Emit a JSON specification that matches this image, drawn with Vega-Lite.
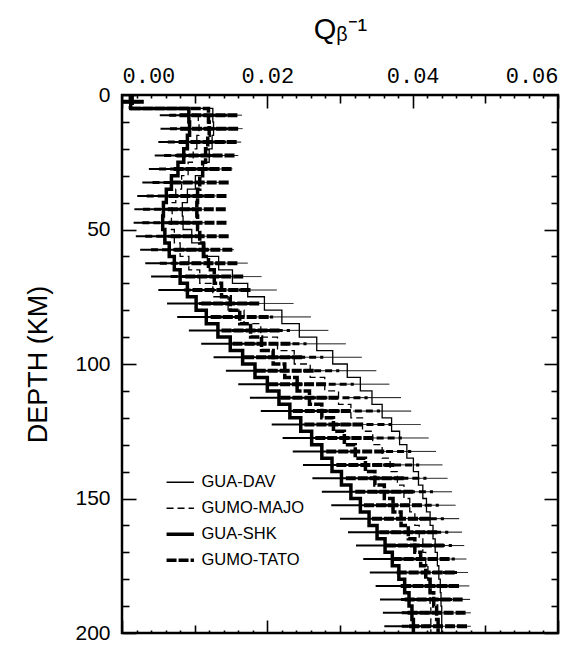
{
"$schema":"https://vega.github.io/schema/vega-lite/v6.json",
"width":436,"height":538,
"autosize":{"type":"none"},
"padding":{"left":122,"top":95,"right":30,"bottom":12},
"background":"white",
"config":{"view":{"stroke":"black","strokeWidth":2.5},"font":"Liberation Sans",
 "axis":{"grid":false,"domain":false,"tickColor":"black","labelColor":"black","titleColor":"black","tickWidth":1.6,"labelOverlap":false,"labelBound":false,"titleFontWeight":"normal"}},
"datasets":{"p":[
{"s":"GUA-DAV","top":0,"mid":2.5,"q":0.0012,"lo":0,"hi":0.0028},
{"s":"GUA-DAV","top":5,"mid":7.5,"q":0.0125,"lo":0.0085,"hi":0.0165},
{"s":"GUA-DAV","top":10,"mid":12.5,"q":0.0126,"lo":0.0086,"hi":0.0166},
{"s":"GUA-DAV","top":15,"mid":17.5,"q":0.0124,"lo":0.0084,"hi":0.0164},
{"s":"GUA-DAV","top":20,"mid":22.5,"q":0.012,"lo":0.008,"hi":0.016},
{"s":"GUA-DAV","top":25,"mid":27.5,"q":0.0112,"lo":0.0072,"hi":0.0152},
{"s":"GUA-DAV","top":30,"mid":32.5,"q":0.0101,"lo":0.0061,"hi":0.0141},
{"s":"GUA-DAV","top":35,"mid":37.5,"q":0.009,"lo":0.005,"hi":0.013},
{"s":"GUA-DAV","top":40,"mid":42.5,"q":0.0083,"lo":0.0043,"hi":0.0123},
{"s":"GUA-DAV","top":45,"mid":47.5,"q":0.0084,"lo":0.0044,"hi":0.0124},
{"s":"GUA-DAV","top":50,"mid":52.5,"q":0.0096,"lo":0.0056,"hi":0.0136},
{"s":"GUA-DAV","top":55,"mid":57.5,"q":0.0114,"lo":0.0074,"hi":0.0154},
{"s":"GUA-DAV","top":60,"mid":62.5,"q":0.0133,"lo":0.0093,"hi":0.0173},
{"s":"GUA-DAV","top":65,"mid":67.5,"q":0.0152,"lo":0.0112,"hi":0.0192},
{"s":"GUA-DAV","top":70,"mid":72.5,"q":0.0173,"lo":0.0133,"hi":0.0213},
{"s":"GUA-DAV","top":75,"mid":77.5,"q":0.0196,"lo":0.0156,"hi":0.0236},
{"s":"GUA-DAV","top":80,"mid":82.5,"q":0.022,"lo":0.018,"hi":0.026},
{"s":"GUA-DAV","top":85,"mid":87.5,"q":0.0244,"lo":0.0204,"hi":0.0284},
{"s":"GUA-DAV","top":90,"mid":92.5,"q":0.0268,"lo":0.0228,"hi":0.0308},
{"s":"GUA-DAV","top":95,"mid":97.5,"q":0.029,"lo":0.025,"hi":0.033},
{"s":"GUA-DAV","top":100,"mid":102.5,"q":0.031,"lo":0.027,"hi":0.035},
{"s":"GUA-DAV","top":105,"mid":107.5,"q":0.0328,"lo":0.0288,"hi":0.0368},
{"s":"GUA-DAV","top":110,"mid":112.5,"q":0.0344,"lo":0.0304,"hi":0.0384},
{"s":"GUA-DAV","top":115,"mid":117.5,"q":0.0358,"lo":0.0318,"hi":0.0398},
{"s":"GUA-DAV","top":120,"mid":122.5,"q":0.0371,"lo":0.0331,"hi":0.0411},
{"s":"GUA-DAV","top":125,"mid":127.5,"q":0.0382,"lo":0.0342,"hi":0.0422},
{"s":"GUA-DAV","top":130,"mid":132.5,"q":0.0392,"lo":0.0352,"hi":0.0432},
{"s":"GUA-DAV","top":135,"mid":137.5,"q":0.0401,"lo":0.0361,"hi":0.0441},
{"s":"GUA-DAV","top":140,"mid":142.5,"q":0.0408,"lo":0.0368,"hi":0.0448},
{"s":"GUA-DAV","top":145,"mid":147.5,"q":0.0414,"lo":0.0374,"hi":0.0454},
{"s":"GUA-DAV","top":150,"mid":152.5,"q":0.0419,"lo":0.0379,"hi":0.0459},
{"s":"GUA-DAV","top":155,"mid":157.5,"q":0.0424,"lo":0.0384,"hi":0.0464},
{"s":"GUA-DAV","top":160,"mid":162.5,"q":0.0428,"lo":0.0388,"hi":0.0468},
{"s":"GUA-DAV","top":165,"mid":167.5,"q":0.0431,"lo":0.0391,"hi":0.0471},
{"s":"GUA-DAV","top":170,"mid":172.5,"q":0.0434,"lo":0.0394,"hi":0.0474},
{"s":"GUA-DAV","top":175,"mid":177.5,"q":0.0436,"lo":0.0396,"hi":0.0476},
{"s":"GUA-DAV","top":180,"mid":182.5,"q":0.0438,"lo":0.0398,"hi":0.0478},
{"s":"GUA-DAV","top":185,"mid":187.5,"q":0.0439,"lo":0.0399,"hi":0.0479},
{"s":"GUA-DAV","top":190,"mid":192.5,"q":0.044,"lo":0.04,"hi":0.048},
{"s":"GUA-DAV","top":195,"mid":197.5,"q":0.044,"lo":0.04,"hi":0.048},
{"s":"GUA-DAV","top":200,"q":0.044},
{"s":"GUMO-MAJO","top":0,"mid":2.5,"q":0.001,"lo":0,"hi":0.0025},
{"s":"GUMO-MAJO","top":5,"mid":7.5,"q":0.0105,"lo":0.0065,"hi":0.0145},
{"s":"GUMO-MAJO","top":10,"mid":12.5,"q":0.0106,"lo":0.0066,"hi":0.0146},
{"s":"GUMO-MAJO","top":15,"mid":17.5,"q":0.0103,"lo":0.0063,"hi":0.0143},
{"s":"GUMO-MAJO","top":20,"mid":22.5,"q":0.0098,"lo":0.0058,"hi":0.0138},
{"s":"GUMO-MAJO","top":25,"mid":27.5,"q":0.0091,"lo":0.0051,"hi":0.0131},
{"s":"GUMO-MAJO","top":30,"mid":32.5,"q":0.0082,"lo":0.0042,"hi":0.0122},
{"s":"GUMO-MAJO","top":35,"mid":37.5,"q":0.0074,"lo":0.0034,"hi":0.0114},
{"s":"GUMO-MAJO","top":40,"mid":42.5,"q":0.0069,"lo":0.0029,"hi":0.0109},
{"s":"GUMO-MAJO","top":45,"mid":47.5,"q":0.0068,"lo":0.0028,"hi":0.0108},
{"s":"GUMO-MAJO","top":50,"mid":52.5,"q":0.0072,"lo":0.0032,"hi":0.0112},
{"s":"GUMO-MAJO","top":55,"mid":57.5,"q":0.008,"lo":0.004,"hi":0.012},
{"s":"GUMO-MAJO","top":60,"mid":62.5,"q":0.0092,"lo":0.0052,"hi":0.0132},
{"s":"GUMO-MAJO","top":65,"mid":67.5,"q":0.0107,"lo":0.0067,"hi":0.0147},
{"s":"GUMO-MAJO","top":70,"mid":72.5,"q":0.0125,"lo":0.0085,"hi":0.0165},
{"s":"GUMO-MAJO","top":75,"mid":77.5,"q":0.0146,"lo":0.0106,"hi":0.0186},
{"s":"GUMO-MAJO","top":80,"mid":82.5,"q":0.0168,"lo":0.0128,"hi":0.0208},
{"s":"GUMO-MAJO","top":85,"mid":87.5,"q":0.0191,"lo":0.0151,"hi":0.0231},
{"s":"GUMO-MAJO","top":90,"mid":92.5,"q":0.0214,"lo":0.0174,"hi":0.0254},
{"s":"GUMO-MAJO","top":95,"mid":97.5,"q":0.0237,"lo":0.0197,"hi":0.0277},
{"s":"GUMO-MAJO","top":100,"mid":102.5,"q":0.0259,"lo":0.0219,"hi":0.0299},
{"s":"GUMO-MAJO","top":105,"mid":107.5,"q":0.0279,"lo":0.0239,"hi":0.0319},
{"s":"GUMO-MAJO","top":110,"mid":112.5,"q":0.0298,"lo":0.0258,"hi":0.0338},
{"s":"GUMO-MAJO","top":115,"mid":117.5,"q":0.0315,"lo":0.0275,"hi":0.0355},
{"s":"GUMO-MAJO","top":120,"mid":122.5,"q":0.0331,"lo":0.0291,"hi":0.0371},
{"s":"GUMO-MAJO","top":125,"mid":127.5,"q":0.0345,"lo":0.0305,"hi":0.0385},
{"s":"GUMO-MAJO","top":130,"mid":132.5,"q":0.0358,"lo":0.0318,"hi":0.0398},
{"s":"GUMO-MAJO","top":135,"mid":137.5,"q":0.0369,"lo":0.0329,"hi":0.0409},
{"s":"GUMO-MAJO","top":140,"mid":142.5,"q":0.0379,"lo":0.0339,"hi":0.0419},
{"s":"GUMO-MAJO","top":145,"mid":147.5,"q":0.0388,"lo":0.0348,"hi":0.0428},
{"s":"GUMO-MAJO","top":150,"mid":152.5,"q":0.0396,"lo":0.0356,"hi":0.0436},
{"s":"GUMO-MAJO","top":155,"mid":157.5,"q":0.0403,"lo":0.0363,"hi":0.0443},
{"s":"GUMO-MAJO","top":160,"mid":162.5,"q":0.0409,"lo":0.0369,"hi":0.0449},
{"s":"GUMO-MAJO","top":165,"mid":167.5,"q":0.0414,"lo":0.0374,"hi":0.0454},
{"s":"GUMO-MAJO","top":170,"mid":172.5,"q":0.0418,"lo":0.0378,"hi":0.0458},
{"s":"GUMO-MAJO","top":175,"mid":177.5,"q":0.0421,"lo":0.0381,"hi":0.0461},
{"s":"GUMO-MAJO","top":180,"mid":182.5,"q":0.0423,"lo":0.0383,"hi":0.0463},
{"s":"GUMO-MAJO","top":185,"mid":187.5,"q":0.0424,"lo":0.0384,"hi":0.0464},
{"s":"GUMO-MAJO","top":190,"mid":192.5,"q":0.0425,"lo":0.0385,"hi":0.0465},
{"s":"GUMO-MAJO","top":195,"mid":197.5,"q":0.0425,"lo":0.0385,"hi":0.0465},
{"s":"GUMO-MAJO","top":200,"q":0.0425},
{"s":"GUA-SHK","top":0,"mid":2.5,"q":0.0012,"lo":0,"hi":0.0028},
{"s":"GUA-SHK","top":5,"mid":7.5,"q":0.0092,"lo":0.0052,"hi":0.0132},
{"s":"GUA-SHK","top":10,"mid":12.5,"q":0.0093,"lo":0.0053,"hi":0.0133},
{"s":"GUA-SHK","top":15,"mid":17.5,"q":0.009,"lo":0.005,"hi":0.013},
{"s":"GUA-SHK","top":20,"mid":22.5,"q":0.0085,"lo":0.0045,"hi":0.0125},
{"s":"GUA-SHK","top":25,"mid":27.5,"q":0.0077,"lo":0.0037,"hi":0.0117},
{"s":"GUA-SHK","top":30,"mid":32.5,"q":0.0068,"lo":0.0028,"hi":0.0108},
{"s":"GUA-SHK","top":35,"mid":37.5,"q":0.0061,"lo":0.0021,"hi":0.0101},
{"s":"GUA-SHK","top":40,"mid":42.5,"q":0.0057,"lo":0.0017,"hi":0.0097},
{"s":"GUA-SHK","top":45,"mid":47.5,"q":0.0056,"lo":0.0016,"hi":0.0096},
{"s":"GUA-SHK","top":50,"mid":52.5,"q":0.0059,"lo":0.0019,"hi":0.0099},
{"s":"GUA-SHK","top":55,"mid":57.5,"q":0.0065,"lo":0.0025,"hi":0.0105},
{"s":"GUA-SHK","top":60,"mid":62.5,"q":0.0072,"lo":0.0032,"hi":0.0112},
{"s":"GUA-SHK","top":65,"mid":67.5,"q":0.008,"lo":0.004,"hi":0.012},
{"s":"GUA-SHK","top":70,"mid":72.5,"q":0.009,"lo":0.005,"hi":0.013},
{"s":"GUA-SHK","top":75,"mid":77.5,"q":0.0102,"lo":0.0062,"hi":0.0142},
{"s":"GUA-SHK","top":80,"mid":82.5,"q":0.0116,"lo":0.0076,"hi":0.0156},
{"s":"GUA-SHK","top":85,"mid":87.5,"q":0.0132,"lo":0.0092,"hi":0.0172},
{"s":"GUA-SHK","top":90,"mid":92.5,"q":0.0149,"lo":0.0109,"hi":0.0189},
{"s":"GUA-SHK","top":95,"mid":97.5,"q":0.0166,"lo":0.0126,"hi":0.0206},
{"s":"GUA-SHK","top":100,"mid":102.5,"q":0.0183,"lo":0.0143,"hi":0.0223},
{"s":"GUA-SHK","top":105,"mid":107.5,"q":0.02,"lo":0.016,"hi":0.024},
{"s":"GUA-SHK","top":110,"mid":112.5,"q":0.0216,"lo":0.0176,"hi":0.0256},
{"s":"GUA-SHK","top":115,"mid":117.5,"q":0.0231,"lo":0.0191,"hi":0.0271},
{"s":"GUA-SHK","top":120,"mid":122.5,"q":0.0246,"lo":0.0206,"hi":0.0286},
{"s":"GUA-SHK","top":125,"mid":127.5,"q":0.0261,"lo":0.0221,"hi":0.0301},
{"s":"GUA-SHK","top":130,"mid":132.5,"q":0.0275,"lo":0.0235,"hi":0.0315},
{"s":"GUA-SHK","top":135,"mid":137.5,"q":0.0289,"lo":0.0249,"hi":0.0329},
{"s":"GUA-SHK","top":140,"mid":142.5,"q":0.0302,"lo":0.0262,"hi":0.0342},
{"s":"GUA-SHK","top":145,"mid":147.5,"q":0.0315,"lo":0.0275,"hi":0.0355},
{"s":"GUA-SHK","top":150,"mid":152.5,"q":0.0328,"lo":0.0288,"hi":0.0368},
{"s":"GUA-SHK","top":155,"mid":157.5,"q":0.034,"lo":0.03,"hi":0.038},
{"s":"GUA-SHK","top":160,"mid":162.5,"q":0.0351,"lo":0.0311,"hi":0.0391},
{"s":"GUA-SHK","top":165,"mid":167.5,"q":0.0362,"lo":0.0322,"hi":0.0402},
{"s":"GUA-SHK","top":170,"mid":172.5,"q":0.0372,"lo":0.0332,"hi":0.0412},
{"s":"GUA-SHK","top":175,"mid":177.5,"q":0.0381,"lo":0.0341,"hi":0.0421},
{"s":"GUA-SHK","top":180,"mid":182.5,"q":0.0389,"lo":0.0349,"hi":0.0429},
{"s":"GUA-SHK","top":185,"mid":187.5,"q":0.0395,"lo":0.0355,"hi":0.0435},
{"s":"GUA-SHK","top":190,"mid":192.5,"q":0.0399,"lo":0.0359,"hi":0.0439},
{"s":"GUA-SHK","top":195,"mid":197.5,"q":0.0401,"lo":0.0361,"hi":0.0441},
{"s":"GUA-SHK","top":200,"q":0.0401},
{"s":"GUMO-TATO","top":0,"mid":2.5,"q":0.0014,"lo":0,"hi":0.003},
{"s":"GUMO-TATO","top":5,"mid":7.5,"q":0.0119,"lo":0.0079,"hi":0.0159},
{"s":"GUMO-TATO","top":10,"mid":12.5,"q":0.012,"lo":0.008,"hi":0.016},
{"s":"GUMO-TATO","top":15,"mid":17.5,"q":0.0118,"lo":0.0078,"hi":0.0158},
{"s":"GUMO-TATO","top":20,"mid":22.5,"q":0.0115,"lo":0.0075,"hi":0.0155},
{"s":"GUMO-TATO","top":25,"mid":27.5,"q":0.0111,"lo":0.0071,"hi":0.0151},
{"s":"GUMO-TATO","top":30,"mid":32.5,"q":0.0107,"lo":0.0067,"hi":0.0147},
{"s":"GUMO-TATO","top":35,"mid":37.5,"q":0.0104,"lo":0.0064,"hi":0.0144},
{"s":"GUMO-TATO","top":40,"mid":42.5,"q":0.0103,"lo":0.0063,"hi":0.0143},
{"s":"GUMO-TATO","top":45,"mid":47.5,"q":0.0104,"lo":0.0064,"hi":0.0144},
{"s":"GUMO-TATO","top":50,"mid":52.5,"q":0.0107,"lo":0.0067,"hi":0.0147},
{"s":"GUMO-TATO","top":55,"mid":57.5,"q":0.0112,"lo":0.0072,"hi":0.0152},
{"s":"GUMO-TATO","top":60,"mid":62.5,"q":0.0119,"lo":0.0079,"hi":0.0159},
{"s":"GUMO-TATO","top":65,"mid":67.5,"q":0.0127,"lo":0.0087,"hi":0.0167},
{"s":"GUMO-TATO","top":70,"mid":72.5,"q":0.0137,"lo":0.0097,"hi":0.0177},
{"s":"GUMO-TATO","top":75,"mid":77.5,"q":0.0149,"lo":0.0109,"hi":0.0189},
{"s":"GUMO-TATO","top":80,"mid":82.5,"q":0.0162,"lo":0.0122,"hi":0.0202},
{"s":"GUMO-TATO","top":85,"mid":87.5,"q":0.0177,"lo":0.0137,"hi":0.0217},
{"s":"GUMO-TATO","top":90,"mid":92.5,"q":0.0192,"lo":0.0152,"hi":0.0232},
{"s":"GUMO-TATO","top":95,"mid":97.5,"q":0.0208,"lo":0.0168,"hi":0.0248},
{"s":"GUMO-TATO","top":100,"mid":102.5,"q":0.0224,"lo":0.0184,"hi":0.0264},
{"s":"GUMO-TATO","top":105,"mid":107.5,"q":0.0241,"lo":0.0201,"hi":0.0281},
{"s":"GUMO-TATO","top":110,"mid":112.5,"q":0.0258,"lo":0.0218,"hi":0.0298},
{"s":"GUMO-TATO","top":115,"mid":117.5,"q":0.0275,"lo":0.0235,"hi":0.0315},
{"s":"GUMO-TATO","top":120,"mid":122.5,"q":0.0291,"lo":0.0251,"hi":0.0331},
{"s":"GUMO-TATO","top":125,"mid":127.5,"q":0.0306,"lo":0.0266,"hi":0.0346},
{"s":"GUMO-TATO","top":130,"mid":132.5,"q":0.0321,"lo":0.0281,"hi":0.0361},
{"s":"GUMO-TATO","top":135,"mid":137.5,"q":0.0335,"lo":0.0295,"hi":0.0375},
{"s":"GUMO-TATO","top":140,"mid":142.5,"q":0.0348,"lo":0.0308,"hi":0.0388},
{"s":"GUMO-TATO","top":145,"mid":147.5,"q":0.0361,"lo":0.0321,"hi":0.0401},
{"s":"GUMO-TATO","top":150,"mid":152.5,"q":0.0373,"lo":0.0333,"hi":0.0413},
{"s":"GUMO-TATO","top":155,"mid":157.5,"q":0.0384,"lo":0.0344,"hi":0.0424},
{"s":"GUMO-TATO","top":160,"mid":162.5,"q":0.0394,"lo":0.0354,"hi":0.0434},
{"s":"GUMO-TATO","top":165,"mid":167.5,"q":0.0403,"lo":0.0363,"hi":0.0443},
{"s":"GUMO-TATO","top":170,"mid":172.5,"q":0.0411,"lo":0.0371,"hi":0.0451},
{"s":"GUMO-TATO","top":175,"mid":177.5,"q":0.0418,"lo":0.0378,"hi":0.0458},
{"s":"GUMO-TATO","top":180,"mid":182.5,"q":0.0424,"lo":0.0384,"hi":0.0464},
{"s":"GUMO-TATO","top":185,"mid":187.5,"q":0.0429,"lo":0.0389,"hi":0.0469},
{"s":"GUMO-TATO","top":190,"mid":192.5,"q":0.0433,"lo":0.0393,"hi":0.0473},
{"s":"GUMO-TATO","top":195,"mid":197.5,"q":0.0435,"lo":0.0395,"hi":0.0475},
{"s":"GUMO-TATO","top":200,"q":0.0435}
]},
"data":{"name":"p"},
"layer":[
{"mark":{"type":"line","interpolate":"step-before","color":"black","clip":true},
 "encoding":{
  "x":{"field":"q","type":"quantitative","scale":{"domain":[0,0.06],"nice":false,"zero":false},
   "axis":{"orient":"top","title":"Qᵦ⁻¹","titleFont":"Liberation Sans","titleFontSize":29,"titlePadding":10,
    "values":[0,0.002,0.004,0.006,0.008,0.01,0.012,0.014,0.016,0.018,0.02,0.022,0.024,0.026,0.028,0.03,0.032,0.034,0.036,0.038,0.04,0.042,0.044,0.046,0.048,0.05,0.052,0.054,0.056,0.058,0.06],
    "labelExpr":"abs(datum.value*50-round(datum.value*50))<0.001 ? format(datum.value,'.2f') : ''",
    "labelFont":"Liberation Mono","labelFontSize":22,"labelPadding":21,
    "tickSize":{"condition":[{"test":"abs(datum.value*50-round(datum.value*50))<0.001","value":-13},{"test":"abs(datum.value*100-round(datum.value*100))<0.001","value":-8}],"value":-3}}},
  "y":{"field":"top","type":"quantitative","scale":{"domain":[0,200],"reverse":true,"nice":false,"zero":false},
   "axis":{"orient":"left","title":"DEPTH (KM)","titleFont":"Liberation Sans","titleFontSize":27,"titlePadding":22,
    "values":[0,10,20,30,40,50,60,70,80,90,100,110,120,130,140,150,160,170,180,190,200],
    "labelExpr":"datum.value % 50 == 0 ? datum.label : ''",
    "labelFontSize":21,"labelPadding":26,
    "tickSize":{"condition":{"test":"datum.value % 50 == 0","value":-14},"value":-7}}},
  "order":{"field":"top","type":"quantitative"},
  "strokeDash":{"field":"s","type":"nominal","scale":{"type":"ordinal","domain":["GUA-DAV","GUMO-MAJO","GUA-SHK","GUMO-TATO"],"range":[[1,0],[7,4],[1,0],[10,2]]},
   "legend":{"orient":"none","legendX":50,"legendY":379,"title":null,"symbolType":"stroke","symbolSize":750,"symbolStrokeColor":"black","labelFontSize":16.5,"labelFont":"Liberation Sans","labelColor":"black","rowPadding":9,"labelOffset":13,
    "encode":{"symbols":{"update":{"strokeWidth":{"signal":"datum.value == 'GUA-SHK' || datum.value == 'GUMO-TATO' ? 3.5 : 1.3"}}}}}},
  "strokeWidth":{"field":"s","type":"nominal","scale":{"type":"ordinal","domain":["GUA-DAV","GUMO-MAJO","GUA-SHK","GUMO-TATO"],"range":[1.3,1.3,3.5,3.5]},"legend":null}
 }},
{"mark":{"type":"rule","color":"black","clip":true},
 "encoding":{
  "x":{"field":"lo","type":"quantitative",
   "axis":{"orient":"bottom","title":null,"labels":false,
    "values":[0,0.002,0.004,0.006,0.008,0.01,0.012,0.014,0.016,0.018,0.02,0.022,0.024,0.026,0.028,0.03,0.032,0.034,0.036,0.038,0.04,0.042,0.044,0.046,0.048,0.05,0.052,0.054,0.056,0.058,0.06],
    "tickSize":{"condition":[{"test":"abs(datum.value*50-round(datum.value*50))<0.001","value":-13},{"test":"abs(datum.value*100-round(datum.value*100))<0.001","value":-8}],"value":-3}}},
  "x2":{"field":"hi"},
  "y":{"field":"mid","type":"quantitative",
   "axis":{"orient":"right","title":null,"labels":false,
    "values":[0,10,20,30,40,50,60,70,80,90,100,110,120,130,140,150,160,170,180,190,200],
    "tickSize":{"condition":{"test":"datum.value % 50 == 0","value":-14},"value":-7}}},
  "strokeDash":{"field":"s","type":"nominal",
   "legend":{"orient":"none","legendX":50,"legendY":379,"title":null,"symbolType":"stroke","symbolSize":750,"symbolStrokeColor":"black","labelFontSize":16.5,"labelFont":"Liberation Sans","labelColor":"black","rowPadding":9,"labelOffset":13,
    "encode":{"symbols":{"update":{"strokeWidth":{"signal":"datum.value == 'GUA-SHK' || datum.value == 'GUMO-TATO' ? 3.5 : 1.3"}}}}}},
  "strokeWidth":{"field":"s","type":"nominal","legend":null}
 }}
],
"resolve":{"axis":{"x":"independent","y":"independent"}}
}
